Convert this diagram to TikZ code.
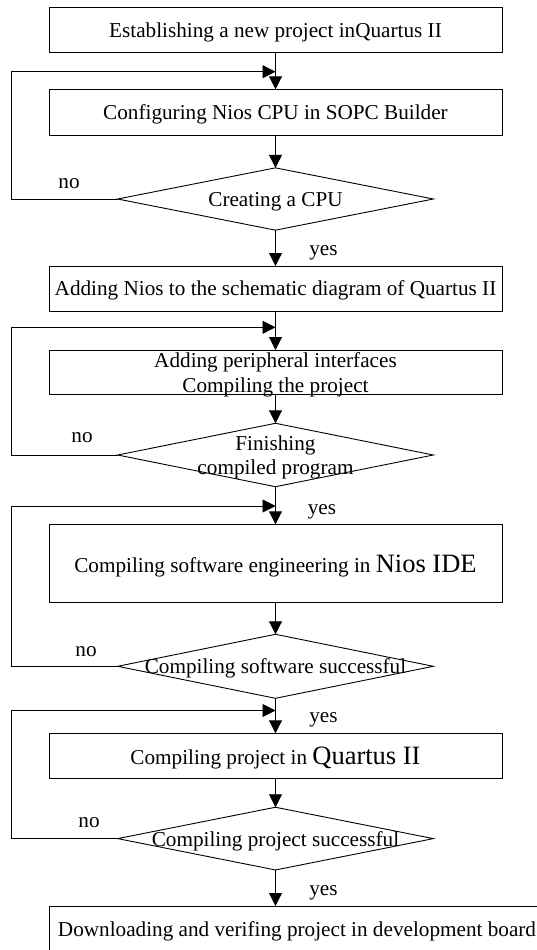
\documentclass[tikz,border=0pt]{standalone}
\usepackage{fontspec}
\setmainfont{Liberation Serif}
\usetikzlibrary{arrows.meta,shapes.geometric}
\newcommand{\fsn}{\fontsize{21.2}{25}\selectfont}
\newcommand{\fsb}{\fontsize{26.5}{30}\selectfont}
\begin{document}
\begin{tikzpicture}[x=1pt,y=-1pt,line width=0.9pt,
  box/.style={draw,rectangle,minimum width=453pt,minimum height=45pt,inner sep=0pt,outer sep=0pt,font=\fsn,align=center,text depth=0pt},
  dia/.style={draw,diamond,minimum width=315.7pt,minimum height=63pt,inner sep=0pt,outer sep=0pt},
  txt/.style={font=\fsn,inner sep=0pt,align=center,text depth=0pt},
  arr/.style={-{Triangle[length=13pt,width=13pt]}}]
\clip (0,0) rectangle (537,950);
% boxes
\node[box] (b1) at (275.5,29.8) {Establishing a new project inQuartus II};
\node[box,minimum height=46pt] (b2) at (275.5,112.3) {Configuring Nios CPU in SOPC Builder};
\node[dia,minimum height=62.3pt] (d1) at (275.5,199) {};
\node[txt] (t1) at (d1.center) {Creating a CPU};
\node[box] (b3) at (275.5,288.5) {Adding Nios to the schematic diagram of Quartus II};
\node[box,minimum height=44.3pt] (b4) at (275.5,372.2) {Adding peripheral interfaces\\Compiling the project};
\node[dia,minimum height=63.4pt] (d2) at (275.5,455) {};
\node[txt,font=\fontsize{21.2}{23.4}\selectfont] (t2) at (d2.center) {Finishing\\compiled program};
\node[box,minimum height=78pt] (b5) at (275.5,563.3) {Compiling software engineering in {\fsb Nios IDE}};
\node[dia,minimum height=64pt] (d3) at (275.5,666.3) {};
\node[txt] (t3) at (d3.center) {Compiling software successful};
\node[box] (b6) at (275.5,755.8) {Compiling project in {\fsb Quartus II}};
\node[dia,minimum height=62.7pt] (d4) at (275.5,838.6) {};
\node[txt] (t4) at (d4.center) {Compiling project successful};
\node[box,minimum width=496pt,minimum height=46pt] (b7) at (297,929) {Downloading and verifing project in development board};
% labels
\node[txt] (n1) at (69,183.5) {no};
\node[txt] (n2) at (82,438) {no};
\node[txt] (n3) at (86,651) {no};
\node[txt] (n4) at (89,822.5) {no};
\node[txt] (y1) at (323.5,250.7) {yes};
\node[txt] (y2) at (322,509.3) {yes};
\node[txt] (y3) at (323.5,717.3) {yes};
\node[txt] (y4) at (323.5,890.7) {yes};
% junction points of feedback loops
\coordinate (f1) at (275.5,71.7);
\coordinate (f2) at (275.5,327.3);
\coordinate (f3) at (275.5,506);
\coordinate (f4) at (275.5,710.5);
\coordinate (L) at (11.3,0);
% main flow
\draw[arr] (b1.south) -- (b2.north);
\draw[arr] (b2.south) -- (d1.north);
\draw[arr] (d1.south) -- (b3.north);
\draw[arr] (b3.south) -- (b4.north);
\draw[arr] (b4.south) -- (d2.north);
\draw[arr] (d2.south) -- (b5.north);
\draw[arr] (b5.south) -- (d3.north);
\draw[arr] (d3.south) -- (b6.north);
\draw[arr] (b6.south) -- (d4.north);
\draw[arr] (d4.south) -- (d4.south |- b7.north);
% feedback loops
\draw[arr] (d1.west) -- (L |- d1.west) -- (L |- f1) -- (f1);
\draw[arr] (d2.west) -- (L |- d2.west) -- (L |- f2) -- (f2);
\draw[arr] (d3.west) -- (L |- d3.west) -- (L |- f3) -- (f3);
\draw[arr] (d4.west) -- (L |- d4.west) -- (L |- f4) -- (f4);
\end{tikzpicture}
\end{document}
